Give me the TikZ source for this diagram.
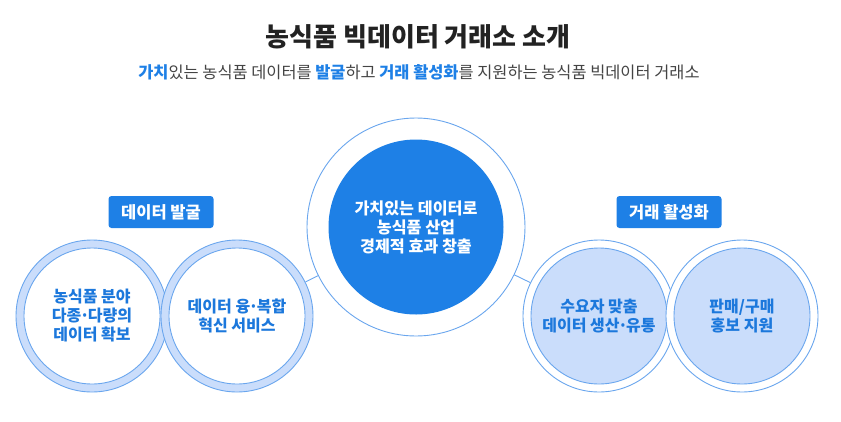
\documentclass[tikz,border=0pt]{standalone}
\usepackage{fontspec}
\setmainfont{Noto Sans CJK KR}
\usetikzlibrary{positioning}
\definecolor{mainblue}{HTML}{1E80E6}
\definecolor{ringblue}{HTML}{6AA6EE}
\definecolor{bandblue}{HTML}{CADDFB}
\definecolor{textblue}{HTML}{1C78DC}
\definecolor{titlegray}{HTML}{222222}
\definecolor{subgray}{HTML}{444444}
\newcommand{\ndot}{\kern-0.1em·\kern-0.1em}

\begin{document}
\begin{tikzpicture}[x=1pt,y=-1pt,
  every node/.style={font=\fontsize{16}{19}\selectfont,align=center,inner sep=0pt},
  tag/.style={fill=mainblue,text=white,rounded corners=3pt,minimum width=105pt,minimum height=32pt},
  outring/.style={circle,draw=ringblue,line width=0.9pt,minimum size=152pt},
  bandring/.style={outring,fill=bandblue},
  plainring/.style={outring,fill=white},
  whitecore/.style={circle,draw=ringblue,fill=white,line width=0.9pt,minimum size=136pt,text=textblue,font=\fontsize{16}{19}\selectfont\bfseries},
  bluecore/.style={circle,draw=ringblue,fill=bandblue,line width=0.9pt,minimum size=136pt,text=textblue,font=\fontsize{16}{19}\selectfont\bfseries}]
\useasboundingbox (0,0) rectangle (841,421);

% heading
\node[text=titlegray,font=\fontsize{26}{30}\selectfont\bfseries] (title) at (418,37) {농식품 빅데이터 거래소 소개};
\node[text=subgray,font=\fontsize{16.4}{19}\selectfont] (subtitle) at (419,72) {{\color{mainblue}\bfseries 가치}있는 농식품 데이터를 {\color{mainblue}\bfseries 발굴}하고 {\color{mainblue}\bfseries 거래 활성화}를 지원하는 농식품 빅데이터 거래소};

% centre
\node[circle,draw=ringblue,fill=white,line width=0.9pt,minimum size=218pt] (hub) at (416,227) {};
\node[circle,fill=mainblue,text=white,minimum size=175pt,font=\fontsize{16.2}{19}\selectfont\bfseries] (hubcore) at (hub) {가치있는 데이터로\\농식품 산업\\경제적 효과 창출};

% left group
\node[tag,font=\fontsize{16.5}{19}\selectfont\bfseries] (findtag) at (161,212) {데이터 발굴};
\node[bandring] (find1) at (92,316) {};
\node[whitecore] (find1core) at (find1) {농식품 분야\\다종\ndot 다량의\\데이터 확보};
\node[bandring] (find2) at (237,316) {};
\node[whitecore] (find2core) at (find2) {데이터 융\ndot 복합\\혁신 서비스};

% right group
\node[tag,font=\fontsize{16.5}{19}\selectfont\bfseries] (tradetag) at (669,212) {거래 활성화};
\node[plainring] (trade1) at (599,316) {};
\node[bluecore] (trade1core) at (trade1) {수요자 맞춤\\데이터 생산\ndot 유통};
\node[plainring] (trade2) at (742,316) {};
\node[bluecore] (trade2core) at (trade2) {판매/구매\\홍보 지원};

% links
\draw[ringblue,line width=0.9pt] (hub) -- (find2);
\draw[ringblue,line width=0.9pt] (hub) -- (trade1);
\end{tikzpicture}
\end{document}
